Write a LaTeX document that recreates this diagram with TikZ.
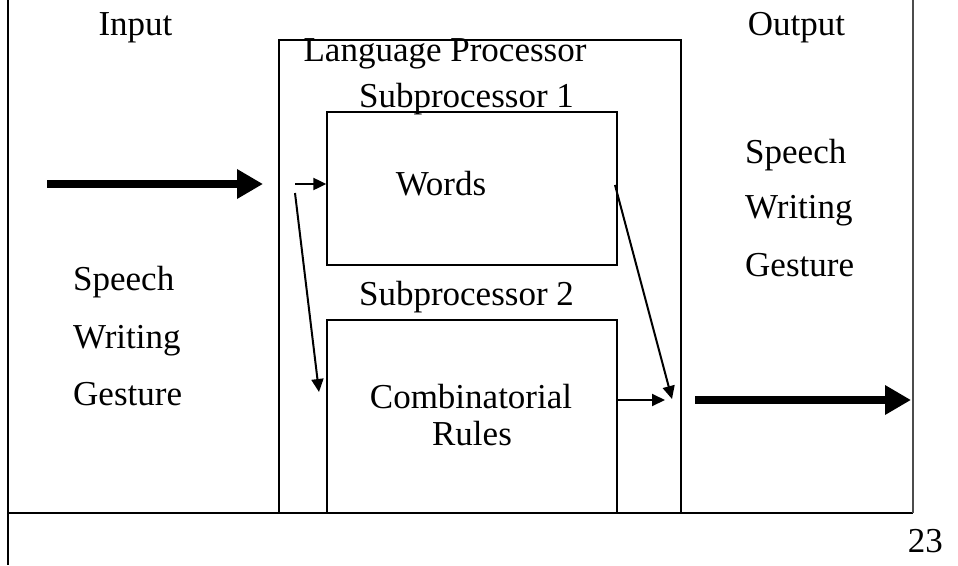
\documentclass[tikz,border=0pt]{standalone}
\usepackage{fontspec}
\setmainfont{Liberation Serif}
\usetikzlibrary{arrows.meta}

\begin{document}
\begin{tikzpicture}[x=1pt,y=-1pt,
	box/.style={draw, line width=1.3pt, inner sep=0pt},
	lbl/.style={font=\fontsize{35}{38}\selectfont, inner sep=0pt, anchor=base},
	lst/.style={lbl, anchor=base west},
	fat/.style={line width=8pt, -{Triangle[length=26pt,width=28pt]}},
	flow/.style={line width=2pt, -{Triangle[length=13pt,width=12pt]}}]
	%%%%% START %%%%%
	\def\xl{8}
	\def\xr{913}
	\def\yb{513}
	\def\yin{184}
	\def\yout{400}
	\useasboundingbox (0,0) rectangle (958,565);
	
	% page frame
	\draw[line width=2pt] (\xl,0) -- (\xl,565);
	\draw[line width=1.5pt] (\xl,\yb) -- (\xr,\yb);
	\draw[line width=1.5pt, black!70] (\xr,0) -- (\xr,\yb);
	
	% boxes
	\node[box, minimum width=402pt, minimum height=473pt] (lp) at (480,276.5) {};
	\node[box, minimum width=290pt, minimum height=153pt] (sp1) at (472,188.5) {};
	\node[box, minimum width=290pt, minimum height=193pt] (sp2) at (472,416.5) {};
	
	% labels
	\node[lbl] (inp) at (135.5,35) {Input};
	\node[lbl] (outp) at (796.5,35) {Output};
	\node[lbl] (lpname) at (445,61) {Language Processor};
	\node[lbl] (sp1name) at (466.5,107) {Subprocessor 1};
	\node[lbl] (words) at (441,195) {Words};
	\node[lbl] (sp2name) at (466.5,305) {Subprocessor 2};
	\node[lbl] (comb) at (471,408) {Combinatorial};
	\node[lbl] (rules) at (472,445) {Rules};
	
	\node[lst] (speechl) at (73,290) {Speech};
	\node[lst] (writingl) at (73,348) {Writing};
	\node[lst] (gesturel) at (73,405) {Gesture};
	\node[lst] (speechr) at (745,163) {Speech};
	\node[lst] (writingr) at (745,218) {Writing};
	\node[lst] (gesturer) at (745,276) {Gesture};
	
	\node[lbl, anchor=base east] (page) at (943,552) {23};
	
	% connectors
	\coordinate (src) at (47,\yin);
	\coordinate (gate) at (263,\yin);
	\coordinate (split) at (295,\yin);
	\coordinate (down) at (295,193);
	\coordinate (low) at (319,392);
	\coordinate (up) at (615,185);
	\coordinate (merge) at (672,399);
	\coordinate (tail) at (665,\yout);
	\coordinate (exit) at (695,\yout);
	\coordinate (sink) at (911,\yout);
	
	\draw[fat] (src) -- (gate);
	\draw[flow] (split) -- (split -| sp1.west);
	\draw[flow] (down) -- (low);
	\draw[flow] (up) -- (merge);
	\draw[flow] (sp2.east |- tail) -- (tail);
	\draw[fat] (exit) -- (sink);
	%%%%% END %%%%%
\end{tikzpicture}
\end{document}
